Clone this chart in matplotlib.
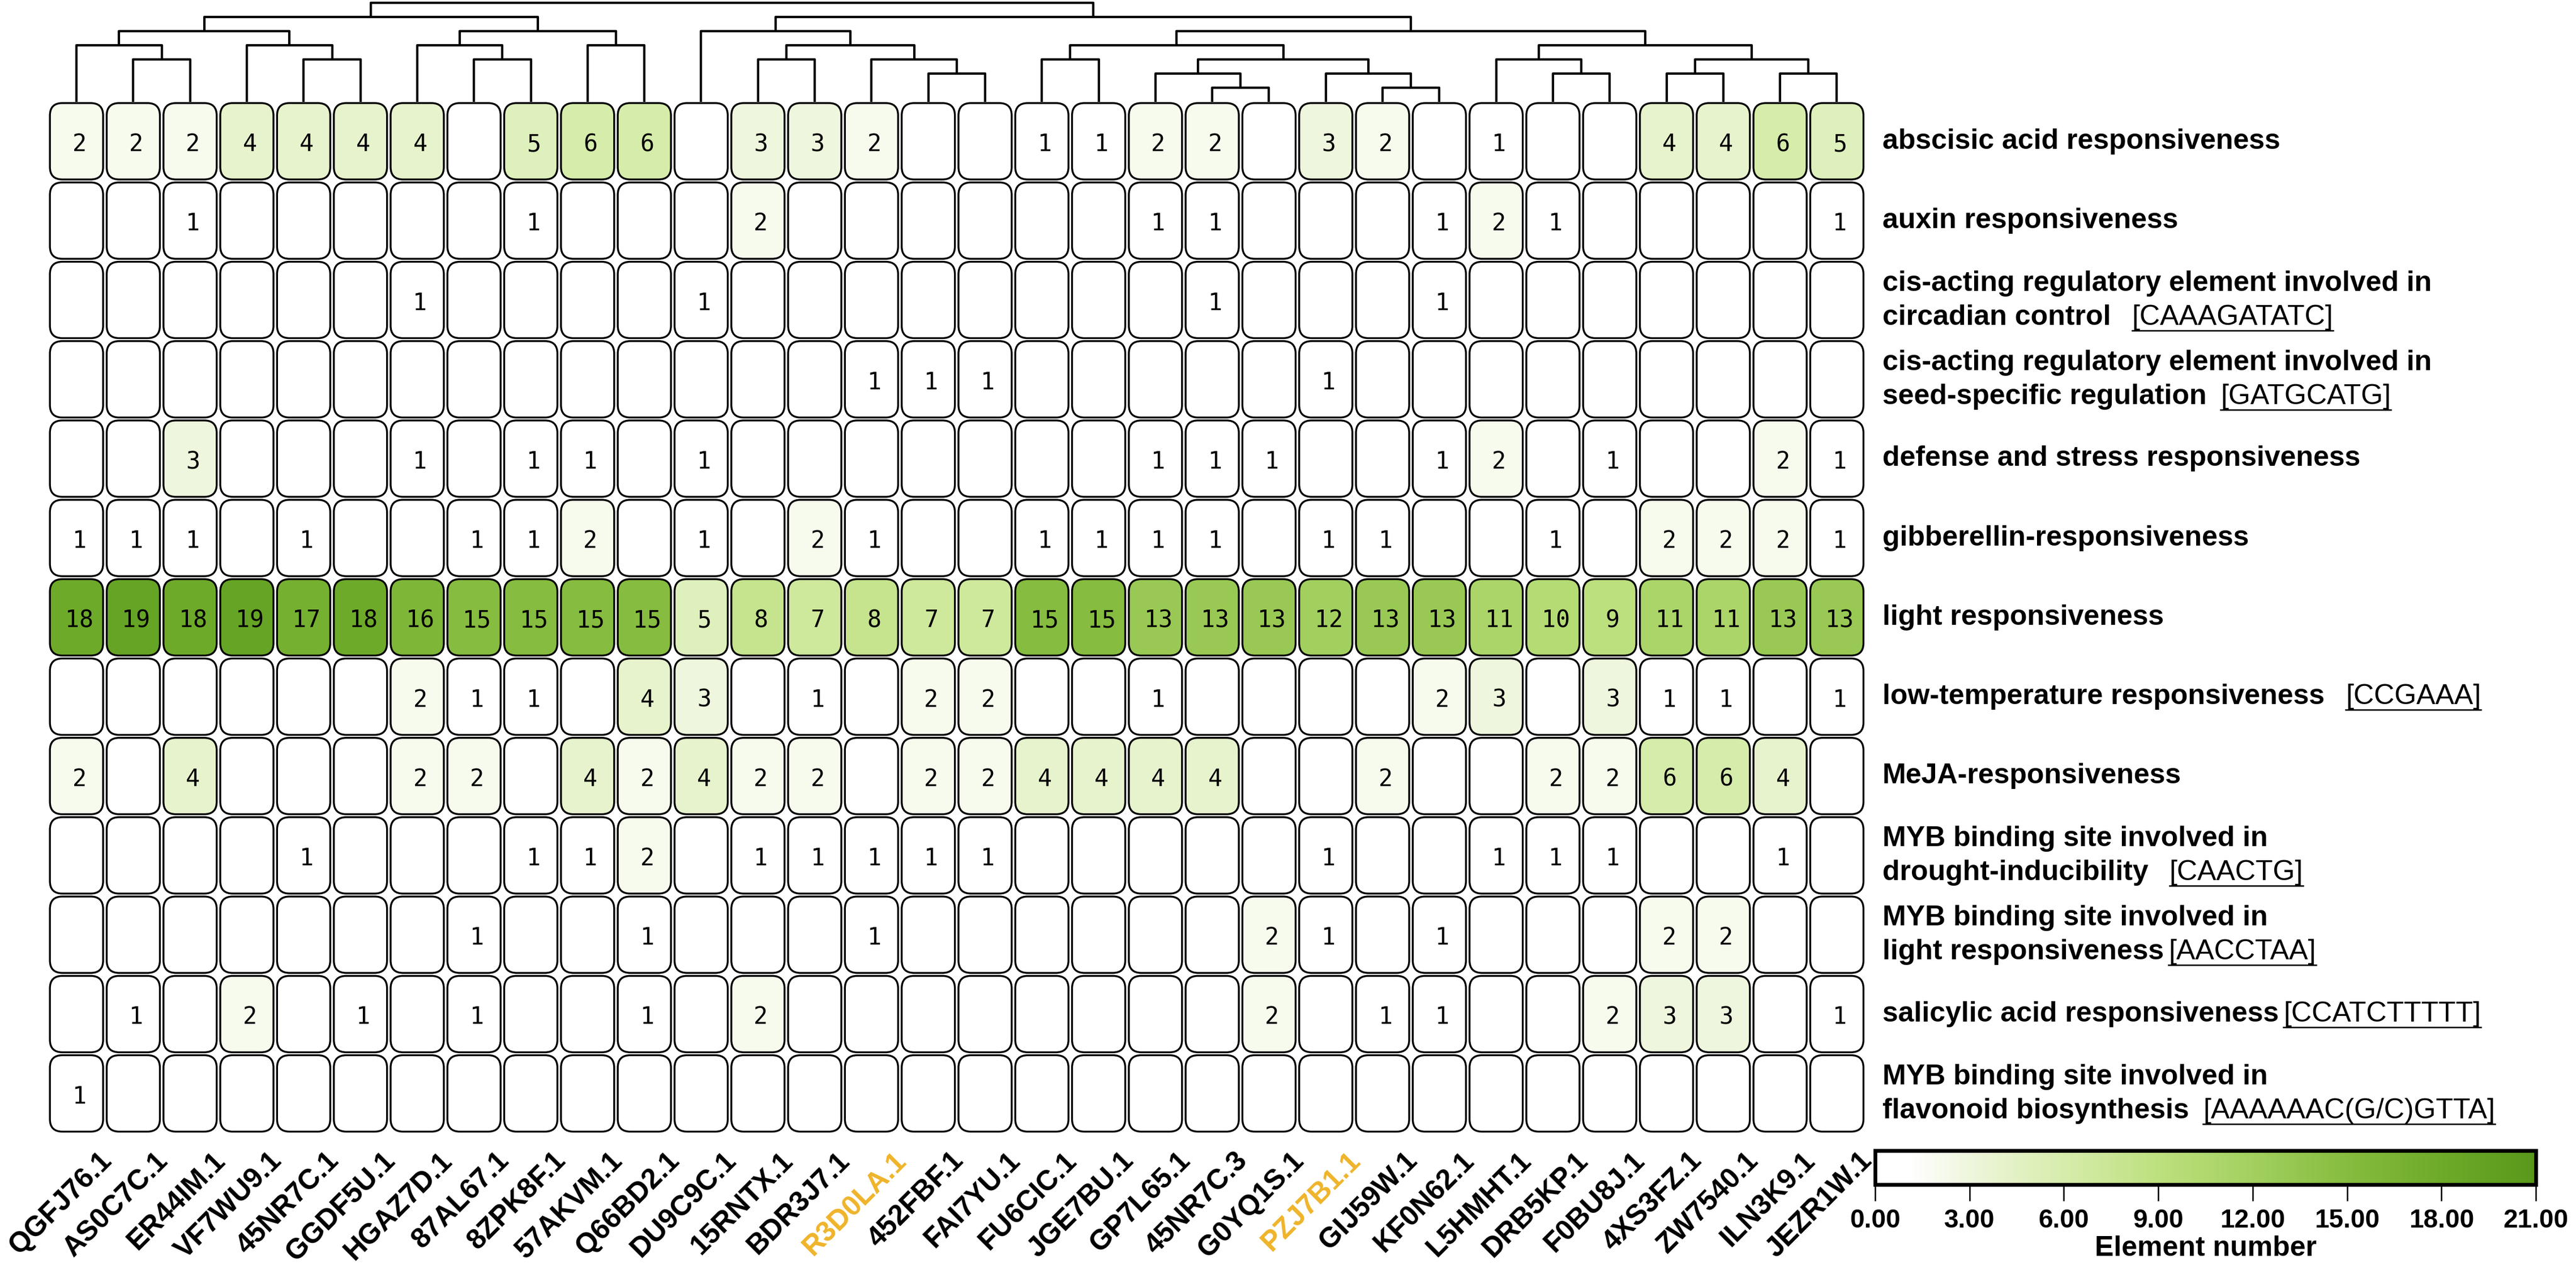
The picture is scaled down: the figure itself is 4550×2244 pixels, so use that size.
import numpy as np
import matplotlib
matplotlib.use("Agg")
import matplotlib.pyplot as plt
from matplotlib.patches import FancyBboxPatch
from matplotlib.colors import LinearSegmentedColormap, Normalize
from matplotlib.cm import ScalarMappable
from matplotlib.lines import Line2D

plt.rcParams['font.family'] = ['Liberation Sans Narrow', 'Liberation Sans', 'DejaVu Sans']

# %% data

genes = ["QGFJ76.1", "AS0C7C.1", "ER44IM.1", "VF7WU9.1", "45NR7C.1", "GGDF5U.1",
         "HGAZ7D.1", "87AL67.1", "8ZPK8F.1", "57AKVM.1", "Q66BD2.1", "DU9C9C.1",
         "15RNTX.1", "BDR3J7.1", "R3D0LA.1", "452FBF.1", "FAI7YU.1", "FU6CIC.1",
         "JGE7BU.1", "GP7L65.1", "45NR7C.3", "G0YQ1S.1", "PZJ7B1.1", "GIJ59W.1",
         "KF0N62.1", "L5HMHT.1", "DRB5KP.1", "F0BU8J.1", "4XS3FZ.1", "ZW7540.1",
         "ILN3K9.1", "JEZR1W.1"]
highlight = ["R3D0LA.1", "PZJ7B1.1"]

elements = ["abscisic acid responsiveness",
            "auxin responsiveness",
            "cis-acting regulatory element involved in\ncircadian control",
            "cis-acting regulatory element involved in\nseed-specific regulation",
            "defense and stress responsiveness",
            "gibberellin-responsiveness",
            "light responsiveness",
            "low-temperature responsiveness",
            "MeJA-responsiveness",
            "MYB binding site involved in\ndrought-inducibility",
            "MYB binding site involved in\nlight responsiveness",
            "salicylic acid responsiveness",
            "MYB binding site involved in\nflavonoid biosynthesis"]
motifs = ["", "", "[CAAAGATATC]", "[GATGCATG]", "", "", "", "[CCGAAA]", "",
          "[CAACTG]", "[AACCTAA]", "[CCATCTTTTT]", "[AAAAAAC(G/C)GTTA]"]

abscisic     = [2,2,2,4,4,4,4,0,5,6,6,0,3,3,2,0,0,1,1,2,2,0,3,2,0,1,0,0,4,4,6,5]
auxin        = [0,0,1,0,0,0,0,0,1,0,0,0,2,0,0,0,0,0,0,1,1,0,0,0,1,2,1,0,0,0,0,1]
circadian    = [0,0,0,0,0,0,1,0,0,0,0,1,0,0,0,0,0,0,0,0,1,0,0,0,1,0,0,0,0,0,0,0]
seed         = [0,0,0,0,0,0,0,0,0,0,0,0,0,0,1,1,1,0,0,0,0,0,1,0,0,0,0,0,0,0,0,0]
defense      = [0,0,3,0,0,0,1,0,1,1,0,1,0,0,0,0,0,0,0,1,1,1,0,0,1,2,0,1,0,0,2,1]
gibberellin  = [1,1,1,0,1,0,0,1,1,2,0,1,0,2,1,0,0,1,1,1,1,0,1,1,0,0,1,0,2,2,2,1]
light        = [18,19,18,19,17,18,16,15,15,15,15,5,8,7,8,7,7,15,15,13,13,13,12,13,13,11,10,9,11,11,13,13]
low_temp     = [0,0,0,0,0,0,2,1,1,0,4,3,0,1,0,2,2,0,0,1,0,0,0,0,2,3,0,3,1,1,0,1]
meja         = [2,0,4,0,0,0,2,2,0,4,2,4,2,2,0,2,2,4,4,4,4,0,0,2,0,0,2,2,6,6,4,0]
myb_drought  = [0,0,0,0,1,0,0,0,1,1,2,0,1,1,1,1,1,0,0,0,0,0,1,0,0,1,1,1,0,0,1,0]
myb_light    = [0,0,0,0,0,0,0,1,0,0,1,0,0,0,1,0,0,0,0,0,0,2,1,0,1,0,0,0,2,2,0,0]
salicylic    = [0,1,0,2,0,1,0,1,0,0,1,0,2,0,0,0,0,0,0,0,0,2,0,1,1,0,0,2,3,3,0,1]
myb_flavo    = [1,0,0,0,0,0,0,0,0,0,0,0,0,0,0,0,0,0,0,0,0,0,0,0,0,0,0,0,0,0,0,0]

counts = np.array([abscisic, auxin, circadian, seed, defense, gibberellin, light,
                   low_temp, meja, myb_drought, myb_light, salicylic, myb_flavo])

# column clustering tree: (height, left, right), leaves are column indices
left_tree = (6, (5, (4, 0, (3, 1, 2)), (4, 3, (3, 4, 5))),
                (5, (4, 6, (3, 7, 8)), (4, 9, 10)))
right_tree = (6, (5, 11, (4, (3, 12, 13), (3, 14, (2, 15, 16)))),
                 (5, (4, (3, 17, 18), (3, (2, 19, (1, 20, 21)), (2, 22, (1, 23, 24)))),
                     (4, (3, 25, (2, 26, 27)), (3, (2, 28, 29), (2, 30, 31)))))
tree = (7, left_tree, right_tree)

# %% figure

W, H = 4550, 2244
fig = plt.figure(figsize=(W / 300, H / 300), dpi=300)


def px_axes(x0, y0, x1, y1):
    return fig.add_axes([x0 / W, 1 - y1 / H, (x1 - x0) / W, (y1 - y0) / H])


cmap = LinearSegmentedColormap.from_list(
    "greens",
    [(0, "#ffffff"), (1 / 21, "#ffffff"), (3 / 21, "#eef6dc"), (6 / 21, "#d6ecab"),
     (9 / 21, "#bde07e"), (12 / 21, "#a2d05f"), (15 / 21, "#86bc3f"),
     (18 / 21, "#6eaa2a"), (1, "#58981a")])
norm = Normalize(0, 21)

nrow, ncol = counts.shape
ax = px_axes(85, 179.5, 85 + ncol * 100.3, 179.5 + nrow * 140.2)
ax.set_xlim(0, ncol)
ax.set_ylim(nrow, 0)
ax.axis("off")

cw, ch = 0.937, 0.963
for i in range(nrow):
    for j in range(ncol):
        v = counts[i, j]
        box = FancyBboxPatch((j + (1 - cw) / 2, i + (1 - ch) / 2), cw, ch,
                             boxstyle="round,pad=0,rounding_size=0.22",
                             mutation_aspect=0.713,
                             fc=cmap(norm(v)), ec="black", lw=0.8)
        ax.add_patch(box)
        if v > 0:
            ax.text(j + 0.55, i + 0.54, str(v), ha="center", va="center",
                    fontsize=10, family="DejaVu Sans Mono")

# row labels
label_texts = []
for i, (name, motif) in enumerate(zip(elements, motifs)):
    lines = name.split("\n")
    if len(lines) == 1:
        ys = [i + 0.5]
    else:
        ys = [i + 0.29, i + 0.72]
    last = None
    for line, y in zip(lines, ys):
        last = ax.text(32.3, y, line, ha="left", va="center", fontsize=12,
                       fontweight="bold", clip_on=False)
    if motif:
        gap = 6
        if i in (10, 11):
            gap = 2
        if i in (2, 7, 9):
            gap = 9
        m = ax.annotate(motif, xy=(1, 0), xycoords=last, xytext=(gap, 0),
                        textcoords="offset points", ha="left", va="bottom",
                        fontsize=12)
        label_texts.append(m)

# column labels
for j, g in enumerate(genes):
    c = "#efb42a" if g in highlight else "black"
    ax.text(j + 0.88, 13.18, g, rotation=45, rotation_mode="anchor",
            ha="right", va="top", fontsize=12, fontweight="bold",
            family="Liberation Sans", color=c, clip_on=False)

# dendrogram
dax = px_axes(85, 0, 85 + ncol * 100.3, 180)
dax.set_xlim(0, ncol)
dax.set_ylim(0, 7.2)
dax.axis("off")


def draw_node(node):
    if isinstance(node, int):
        return node + 0.5, 0
    h, a, b = node
    xa, ha = draw_node(a)
    xb, hb = draw_node(b)
    dax.plot([xa, xa, xb, xb], [ha, h, h, hb], color="black", lw=1.0,
             solid_capstyle="butt", clip_on=False)
    return (xa + xb) / 2, h


draw_node(tree)

# colorbar
cax = px_axes(3312, 2033, 4479, 2093)
cb = fig.colorbar(ScalarMappable(norm=norm, cmap=cmap), cax=cax,
                  orientation="horizontal", ticks=range(0, 22, 3), format="%.2f")
cb.outline.set_linewidth(1.6)
cax.tick_params(length=7, width=0.6, labelsize=11, pad=3)
for t in cax.get_xticklabels():
    t.set_fontweight("bold")
cb.set_label("Element number", fontsize=12, fontweight="bold", labelpad=1)

# underline the motif sequences
fig.canvas.draw()
r = fig.canvas.get_renderer()
for m in label_texts:
    bb = m.get_window_extent(r)
    x0, y0 = fig.transFigure.inverted().transform((bb.x0, bb.y0))
    x1, _ = fig.transFigure.inverted().transform((bb.x1, bb.y0))
    fig.add_artist(Line2D([x0, x1], [y0, y0], color="black", lw=0.6,
                          transform=fig.transFigure))

fig.savefig("out.png", dpi=300)
